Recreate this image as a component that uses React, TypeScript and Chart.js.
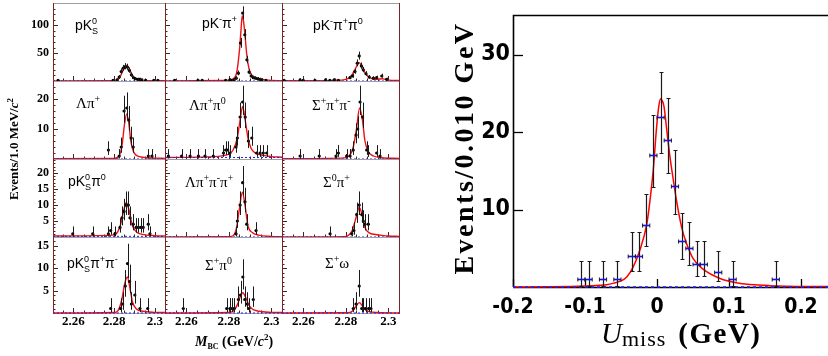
import React, { useEffect, useRef } from "react";
import { Chart, registerables } from "chart.js";

Chart.register(...registerables);

/* ================= DATA: left grid, M_BC (GeV/c^2) ================= */
const MBC_MIN = 2.25;
const MBC_MAX = 2.305;
const MBC_TICKS = [2.26, 2.28, 2.3];
const MBC_TICK_LABELS = ["2.26", "2.28", "2.3"];
const MBC_MINOR_STEP = 0.005;

const ROW_Y_MAX = [140, 26, 24.4, 16.9];
const ROW_Y_TICKS = [[50, 100], [10, 20], [5, 10, 15, 20], [5, 10, 15]];
const ROW_Y_TICK_LABELS = [["50", "100"], ["10", "20"], ["5", "10", "15", "20"], ["5", "10", "15"]];
const ROW_Y_MINOR = [10, 2, 1, 1];

type Pt = [number, number];

// row 1
const PK0S_PTS: Pt[] = [[2.2525, 1], [2.2795, 1], [2.2815, 2], [2.2825, 7], [2.2835, 17], [2.2845, 23], [2.2855, 26], [2.2865, 25], [2.2875, 19], [2.2885, 11], [2.2895, 6], [2.2905, 4], [2.2915, 3], [2.2925, 3], [2.2935, 2], [2.2955, 1], [2.2995, 1], [2.3015, 1]];
const PK0S_FIT: Pt[] = [[2.25, 0.2], [2.278, 0.4], [2.281, 1.5], [2.283, 8], [2.2845, 20], [2.2862, 28], [2.2877, 20], [2.289, 9], [2.2905, 4], [2.2925, 2], [2.295, 1.2], [2.3, 0.6], [2.305, 0.4]];

const PKPI_PTS: Pt[] = [[2.2545, 1], [2.2655, 1], [2.2675, 1], [2.2785, 1], [2.2805, 2], [2.2815, 1], [2.2825, 2], [2.2835, 5], [2.2845, 14], [2.2855, 68], [2.2865, 122], [2.2875, 83], [2.2885, 38], [2.2895, 16], [2.2905, 9], [2.2915, 6], [2.2925, 5], [2.2935, 4], [2.2945, 3], [2.2955, 2], [2.2975, 1]];
const PKPI_FIT: Pt[] = [[2.25, 0.3], [2.278, 0.8], [2.2815, 3], [2.2835, 12], [2.285, 55], [2.2857, 90], [2.2863, 117], [2.287, 105], [2.2877, 78], [2.2885, 45], [2.2895, 22], [2.2905, 12], [2.292, 7], [2.294, 4], [2.297, 2], [2.3, 1], [2.305, 0.5]];

const PKPIPI0_PTS: Pt[] = [[2.251, 1], [2.2585, 2], [2.26, 1], [2.2655, 1], [2.2705, 2], [2.2725, 1], [2.2745, 2], [2.2765, 1], [2.282, 6], [2.2832, 9], [2.2843, 17], [2.2854, 32], [2.2863, 45], [2.2873, 27], [2.2882, 20], [2.2895, 13], [2.291, 7], [2.293, 5], [2.2945, 6], [2.2969, 9], [2.2992, 3]];
const PKPIPI0_FIT: Pt[] = [[2.25, 0.5], [2.275, 1.2], [2.28, 3], [2.2825, 9], [2.2845, 22], [2.2862, 33], [2.2877, 26], [2.289, 15], [2.2905, 8], [2.2925, 4], [2.295, 3], [2.297, 4], [2.2985, 3], [2.3, 1.5], [2.305, 0.8]];

// row 2
const LPI_PTS: Pt[] = [[2.2772, 3], [2.2825, 1], [2.2835, 4], [2.2849, 16], [2.2862, 17], [2.2872, 13], [2.2884, 7], [2.2894, 4], [2.2968, 1], [2.2986, 1]];
const LPI_FIT: Pt[] = [[2.25, 0.1], [2.28, 0.2], [2.2825, 1], [2.284, 5], [2.285, 11], [2.2862, 15], [2.2872, 12], [2.2882, 6], [2.2895, 2.5], [2.291, 1.2], [2.294, 0.6], [2.3, 0.3], [2.305, 0.2]];

const LPIPI0_PTS: Pt[] = [[2.2516, 1], [2.2578, 1], [2.2618, 1], [2.2657, 1], [2.2688, 1], [2.2727, 1], [2.2775, 2], [2.2785, 3], [2.2795, 3], [2.2805, 2], [2.2834, 4], [2.284, 7], [2.2853, 14], [2.2865, 19], [2.2877, 14], [2.2892, 6], [2.2908, 7], [2.2931, 2], [2.2947, 2], [2.2962, 2], [2.2978, 2]];
const LPIPI0_FIT: Pt[] = [[2.25, 0.5], [2.27, 0.7], [2.278, 1.2], [2.282, 3], [2.284, 7], [2.2853, 13], [2.2865, 17.5], [2.2877, 13], [2.289, 7], [2.2905, 3.5], [2.2925, 2], [2.296, 1.2], [2.3, 0.8], [2.305, 0.6]];

const SPIPI_PTS: Pt[] = [[2.2585, 1], [2.2675, 1], [2.2754, 1], [2.2765, 2], [2.2804, 1], [2.282, 1], [2.2835, 3], [2.2848, 8], [2.2856, 10], [2.2867, 19], [2.2879, 14], [2.2898, 3], [2.2906, 2], [2.2945, 2], [2.2961, 1]];
const SPIPI_FIT: Pt[] = [[2.25, 0.1], [2.278, 0.3], [2.2815, 1], [2.2835, 4], [2.285, 10], [2.2865, 17], [2.2878, 13], [2.289, 6], [2.2905, 2.5], [2.293, 1], [2.297, 0.4], [2.305, 0.2]];

// row 3
const PK0SPI0_PTS: Pt[] = [[2.2597, 1], [2.2695, 1], [2.2772, 1], [2.2783, 2], [2.2804, 1], [2.2829, 3], [2.2839, 6], [2.2849, 8], [2.2858, 10], [2.287, 10], [2.2878, 6], [2.2894, 4], [2.2908, 3], [2.2919, 3], [2.2931, 3], [2.2943, 3], [2.2968, 4], [2.2976, 1]];
const PK0SPI0_FIT: Pt[] = [[2.25, 0.3], [2.278, 0.5], [2.281, 1], [2.283, 3.5], [2.2848, 8.5], [2.286, 10.8], [2.2873, 8.5], [2.289, 3.5], [2.291, 1.6], [2.294, 0.8], [2.3, 0.4], [2.305, 0.3]];

const LPIPIPI_PTS: Pt[] = [[2.2834, 1], [2.284, 5], [2.2853, 10], [2.2865, 17], [2.2876, 11], [2.2884, 4], [2.2928, 2]];
const LPIPIPI_FIT: Pt[] = [[2.25, 0], [2.28, 0.1], [2.282, 0.4], [2.2835, 2.5], [2.2848, 8], [2.2864, 14], [2.2876, 10], [2.289, 3.5], [2.291, 1.4], [2.294, 0.6], [2.3, 0.2], [2.305, 0.1]];

const S0PI_PTS: Pt[] = [[2.2726, 1], [2.2828, 1], [2.2838, 2], [2.2851, 7], [2.2863, 10], [2.2875, 7], [2.2882, 5], [2.289, 4], [2.2906, 4]];
const S0PI_FIT: Pt[] = [[2.25, 0], [2.279, 0.1], [2.281, 0.4], [2.283, 2], [2.285, 6.5], [2.2863, 9.3], [2.2878, 6.5], [2.289, 3], [2.291, 1.3], [2.294, 0.8], [2.297, 0.5], [2.3, 0.3], [2.305, 0.2]];

// row 4
const PK0SPIPI_PTS: Pt[] = [[2.2783, 1], [2.2832, 1], [2.2842, 2], [2.2855, 6], [2.2866, 11], [2.2876, 7], [2.2885, 2], [2.2902, 4], [2.2927, 1], [2.2965, 1]];
const PK0SPIPI_FIT: Pt[] = [[2.25, 0], [2.28, 0.1], [2.282, 0.6], [2.2838, 3], [2.2852, 6.5], [2.2865, 8], [2.2878, 5.5], [2.289, 2.5], [2.291, 0.9], [2.294, 0.4], [2.3, 0.15], [2.305, 0.1]];

const SPI0_PTS: Pt[] = [[2.2586, 1], [2.279, 1], [2.2805, 1], [2.2815, 1], [2.2825, 1], [2.2845, 3], [2.2855, 4], [2.2866, 8], [2.2875, 3], [2.2885, 2], [2.2895, 1], [2.2915, 3]];
const SPI0_FIT: Pt[] = [[2.25, 0], [2.28, 0.1], [2.282, 0.4], [2.284, 1.8], [2.2855, 3.8], [2.2866, 4.5], [2.288, 3.4], [2.2895, 1.7], [2.291, 0.9], [2.294, 0.4], [2.3, 0.15], [2.305, 0.1]];

const SOMEGA_PTS: Pt[] = [[2.2835, 1], [2.2848, 2], [2.2863, 6], [2.2875, 1], [2.2882, 1], [2.2893, 1], [2.2907, 1], [2.2918, 1]];
const SOMEGA_FIT: Pt[] = [[2.25, 0], [2.281, 0.05], [2.283, 0.4], [2.2848, 1.5], [2.2863, 2.3], [2.2878, 1.6], [2.2893, 0.7], [2.291, 0.3], [2.295, 0.1], [2.305, 0]];

/* ================= DATA: right plot, U_miss (GeV) ================= */
const UMISS_MIN = -0.2;
const UMISS_MAX = 0.2375;
const UMISS_Y_MAX = 35.1;
const UMISS_X = [-0.105, -0.095, -0.075, -0.055, -0.035, -0.025, -0.015, -0.005, 0.005, 0.015, 0.025, 0.035, 0.045, 0.055, 0.065, 0.085, 0.105, 0.165];
const UMISS_Y = [1, 1, 1, 1, 4, 4, 8, 17, 22, 19, 13, 6, 5, 3, 3, 2, 1, 1];
const UMISS_ERR_LO = [0.83, 0.83, 0.83, 0.83, 1.91, 1.91, 2.77, 4.08, 4.66, 4.32, 3.57, 2.38, 2.16, 1.63, 1.63, 1.29, 0.83, 0.83];
const UMISS_ERR_HI = [2.3, 2.3, 2.3, 2.3, 3.16, 3.16, 3.94, 5.2, 5.76, 5.43, 4.71, 3.58, 3.38, 2.92, 2.92, 2.64, 2.3, 2.3];
const UMISS_BIN_HALF = 0.005;
const UMISS_FIT_X = [-0.2, -0.15, -0.12, -0.1, -0.08, -0.07, -0.06, -0.051, -0.042, -0.033, -0.024, -0.014, -0.0097, -0.005, -0.0005, 0.0025, 0.005, 0.0075, 0.0097, 0.0135, 0.018, 0.0227, 0.027, 0.034, 0.041, 0.05, 0.064, 0.0875, 0.11, 0.157, 0.2375];
const UMISS_FIT_Y = [0.0, 0.02, 0.06, 0.12, 0.22, 0.3, 0.5, 0.75, 1.3, 2.6, 4.7, 8.2, 11.2, 15.3, 20.7, 23.3, 24.3, 24.0, 23.3, 20.3, 16.8, 13.8, 11.2, 7.8, 5.6, 3.7, 2.3, 1.1, 0.55, 0.17, 0.05];
const UMISS_X_TICKS = [-0.2, -0.1, 0, 0.1, 0.2];
const UMISS_X_TICK_LABELS = ["-0.2", "-0.1", "0", "0.1", "0.2"];
const UMISS_Y_TICKS = [10, 20, 30];
const UMISS_Y_TICK_LABELS = ["10", "20", "30"];

/* ================= STYLE / LAYOUT ================= */
const SANS = '"Liberation Sans", Arial, sans-serif';
const SERIF = '"Liberation Serif", "Times New Roman", serif';
const NARROW = '"Liberation Sans Narrow", "DejaVu Sans Condensed", "Liberation Sans", sans-serif';
const RED = "#ee1111";
const BLUE = "#2222ee";

const COL_X = [53, 165, 282, 399];
const ROW_Y = [3, 81, 159, 237, 313];

type Part = { t: string; f: string; dy?: number; dx?: number; stack?: boolean; ls?: number };

const sB = (t: string): Part => ({ t, f: `14px ${SANS}` });
const sSup = (t: string): Part => ({ t, f: `9px ${SANS}`, dy: -6 });
const sSub = (t: string): Part => ({ t, f: `9px ${SANS}`, dy: 4, stack: true });
const rB = (t: string): Part => ({ t, f: `15px ${SERIF}` });
const rSup = (t: string): Part => ({ t, f: `10px ${SERIF}`, dy: -6 });

function drawRich(ctx: CanvasRenderingContext2D, x: number, y: number, parts: Part[], align: "left" | "center" = "left") {
  const items: { p: Part; start: number }[] = [];
  let cursor = 0;
  let prevStart = 0;
  for (const p of parts) {
    ctx.font = p.f;
    (ctx as any).letterSpacing = `${p.ls || 0}px`;
    const w = ctx.measureText(p.t).width;
    const start = p.stack ? prevStart : cursor + (p.dx || 0);
    items.push({ p, start });
    const end = start + w;
    cursor = p.stack ? Math.max(cursor, end) : end;
    if (!p.stack) prevStart = start;
  }
  const ox = align === "center" ? x - cursor / 2 : x;
  ctx.textAlign = "left";
  ctx.textBaseline = "alphabetic";
  for (const { p, start } of items) {
    ctx.font = p.f;
    (ctx as any).letterSpacing = `${p.ls || 0}px`;
    ctx.fillText(p.t, ox + start, y + (p.dy || 0));
  }
  (ctx as any).letterSpacing = "0px";
}

interface PanelSpec {
  row: number;
  col: number;
  pts: Pt[];
  fit: Pt[];
  bkg: number;
  label: Part[];
  lx: number;
  ly: number;
}

const PANELS: PanelSpec[] = [
  { row: 0, col: 0, pts: PK0S_PTS, fit: PK0S_FIT, bkg: 0, label: [sB("pK"), sSup("0"), sSub("S")], lx: 22, ly: 27 },
  { row: 0, col: 1, pts: PKPI_PTS, fit: PKPI_FIT, bkg: 0, label: [sB("pK"), sSup("-"), sB("π"), sSup("+")], lx: 37, ly: 25 },
  { row: 0, col: 2, pts: PKPIPI0_PTS, fit: PKPIPI0_FIT, bkg: 0, label: [sB("pK"), sSup("-"), sB("π"), sSup("+"), sB("π"), sSup("0")], lx: 31, ly: 27 },
  { row: 1, col: 0, pts: LPI_PTS, fit: LPI_FIT, bkg: 0, label: [rB("Λπ"), rSup("+")], lx: 23, ly: 27 },
  { row: 1, col: 1, pts: LPIPI0_PTS, fit: LPIPI0_FIT, bkg: 0.5, label: [rB("Λπ"), rSup("+"), rB("π"), rSup("0")], lx: 24, ly: 29 },
  { row: 1, col: 2, pts: SPIPI_PTS, fit: SPIPI_FIT, bkg: 0, label: [rB("Σ"), rSup("+"), rB("π"), rSup("+"), rB("π"), rSup("-")], lx: 30, ly: 29 },
  { row: 2, col: 0, pts: PK0SPI0_PTS, fit: PK0SPI0_FIT, bkg: 0.2, label: [sB("pK"), sSup("0"), sSub("S"), sB("π"), sSup("0")], lx: 15, ly: 27 },
  { row: 2, col: 1, pts: LPIPIPI_PTS, fit: LPIPIPI_FIT, bkg: 0, label: [rB("Λπ"), rSup("+"), rB("π"), rSup("-"), rB("π"), rSup("+")], lx: 20, ly: 28 },
  { row: 2, col: 2, pts: S0PI_PTS, fit: S0PI_FIT, bkg: 0, label: [rB("Σ"), rSup("0"), rB("π"), rSup("+")], lx: 41, ly: 28 },
  { row: 3, col: 0, pts: PK0SPIPI_PTS, fit: PK0SPIPI_FIT, bkg: 0, label: [sB("pK"), sSup("0"), sSub("S"), sB("π"), sSup("+"), sB("π"), sSup("-")], lx: 14, ly: 31 },
  { row: 3, col: 1, pts: SPI0_PTS, fit: SPI0_FIT, bkg: 0, label: [rB("Σ"), rSup("+"), rB("π"), rSup("0")], lx: 40, ly: 33 },
  { row: 3, col: 2, pts: SOMEGA_PTS, fit: SOMEGA_FIT, bkg: 0, label: [rB("Σ"), rSup("+"), rB("ω")], lx: 43, ly: 31 },
];

// Poisson (Garwood-like) error bar half-lengths for displayed counts
const errLo = (n: number) => (n <= 0 ? 0 : Math.sqrt(n) - 0.17 / Math.sqrt(n));
const errHi = (n: number) => (n <= 0 ? 1.84 : Math.sqrt(n) + 1 + 0.3 / Math.sqrt(n));

function near(a: number, list: number[]) {
  return list.some((v) => Math.abs(v - a) < 1e-9);
}

function panelGeom(p: PanelSpec) {
  const x0 = COL_X[p.col], x1 = COL_X[p.col + 1];
  const y0 = ROW_Y[p.row], y1 = ROW_Y[p.row + 1];
  const padL = p.col === 0 ? x0 : 2;
  const padB = p.row === 3 ? 26 : 2;
  return {
    left: x0 - padL,
    top: y0 - 2,
    width: padL + (x1 - x0) + 2,
    height: 2 + (y1 - y0) + padB,
    padL,
    padB,
  };
}

function makePanelConfig(p: PanelSpec): any {
  const g = panelGeom(p);
  const yTicks = ROW_Y_TICKS[p.row];
  const yLabels = ROW_Y_TICK_LABELS[p.row];
  const yMinor = ROW_Y_MINOR[p.row];
  const lo = p.pts.map(([, y]) => errLo(y));
  const hi = p.pts.map(([, y]) => errHi(y));

  const decor = {
    id: "panelDecor",
    beforeDatasetsDraw(chart: any) {
      const { ctx, chartArea: a } = chart;
      const xs = chart.scales.x, ys = chart.scales.y;
      ctx.save();
      ctx.lineWidth = 1;
      ctx.strokeStyle = "#4a2222";
      for (let k = 1; k * yMinor < ys.max; k++) {
        const v = k * yMinor;
        const py = Math.round(ys.getPixelForValue(v)) + 0.5;
        const len = near(v, yTicks) ? 5 : 2.5;
        ctx.beginPath();
        ctx.moveTo(a.left, py);
        ctx.lineTo(a.left + len, py);
        ctx.stroke();
      }
      const n = Math.round((MBC_MAX - MBC_MIN) / MBC_MINOR_STEP);
      for (let k = 1; k <= n; k++) {
        const v = MBC_MIN + k * MBC_MINOR_STEP;
        const px = Math.round(xs.getPixelForValue(v)) + 0.5;
        const len = near(v, MBC_TICKS) ? 5 : 2.5;
        ctx.beginPath();
        ctx.moveTo(px, a.bottom);
        ctx.lineTo(px, a.bottom - len);
        ctx.stroke();
      }
      ctx.strokeStyle = "#a0a0a0";
      ctx.beginPath();
      ctx.moveTo(a.left, a.top + 0.5);
      ctx.lineTo(a.right + 1, a.top + 0.5);
      ctx.moveTo(a.left, a.bottom + 0.5);
      ctx.lineTo(a.right + 1, a.bottom + 0.5);
      ctx.stroke();
      ctx.strokeStyle = "#7a2424";
      ctx.beginPath();
      ctx.moveTo(a.left + 0.5, a.top);
      ctx.lineTo(a.left + 0.5, a.bottom + 1);
      ctx.moveTo(a.right + 0.5, a.top);
      ctx.lineTo(a.right + 0.5, a.bottom + 1);
      ctx.stroke();
      ctx.restore();
    },
    afterDatasetDraw(chart: any, args: any) {
      if (args.index !== 0) return;
      const { ctx } = chart;
      const ys = chart.scales.y;
      ctx.save();
      ctx.strokeStyle = "#1a1a1a";
      ctx.lineWidth = 1;
      args.meta.data.forEach((el: any, i: number) => {
        const v = p.pts[i][1];
        const px = Math.round(el.x) + 0.5;
        const t = ys.getPixelForValue(v + hi[i]);
        const b = ys.getPixelForValue(Math.max(0, v - lo[i]));
        ctx.beginPath();
        ctx.moveTo(px, t);
        ctx.lineTo(px, b);
        ctx.stroke();
      });
      ctx.restore();
    },
    afterDraw(chart: any) {
      const { ctx, chartArea: a } = chart;
      ctx.save();
      ctx.fillStyle = "#000";
      drawRich(ctx, a.left + p.lx, a.top + p.ly, p.label);
      ctx.restore();
    },
  };

  return {
    type: "scatter",
    data: {
      datasets: [
        {
          type: "scatter",
          data: p.pts.map(([x, y]) => ({ x, y })),
          pointRadius: 1.6,
          pointBackgroundColor: "#000",
          pointBorderWidth: 0,
          borderWidth: 0,
        },
        {
          type: "line",
          data: [{ x: MBC_MIN, y: p.bkg }, { x: MBC_MAX, y: p.bkg }],
          borderColor: BLUE,
          borderWidth: 1,
          borderDash: [2, 2],
          pointRadius: 0,
          fill: false,
          clip: false,
        },
        {
          type: "line",
          data: p.fit.map(([x, y]) => ({ x, y })),
          borderColor: RED,
          borderWidth: 1.4,
          pointRadius: 0,
          cubicInterpolationMode: "monotone",
          fill: false,
          clip: false,
        },
      ],
    },
    options: {
      animation: false,
      responsive: false,
      events: [],
      layout: { padding: { top: 2, right: 2, left: 0, bottom: 0 }, autoPadding: false },
      plugins: { legend: { display: false }, tooltip: { enabled: false } },
      scales: {
        x: {
          type: "linear",
          min: MBC_MIN,
          max: MBC_MAX,
          grid: { display: false, drawTicks: false },
          border: { display: false },
          ticks: {
            display: p.row === 3,
            autoSkip: false,
            maxRotation: 0,
            minRotation: 0,
            color: "#000",
            padding: 1,
            font: { family: SERIF, size: 13, weight: "bold" },
            callback: (_v: any, i: number) => MBC_TICK_LABELS[i],
          },
          afterBuildTicks: (s: any) => {
            s.ticks = MBC_TICKS.map((value) => ({ value }));
          },
          afterFit: (s: any) => {
            s.height = g.padB;
            s.paddingLeft = 0;
            s.paddingRight = 0;
          },
        },
        y: {
          type: "linear",
          min: 0,
          max: ROW_Y_MAX[p.row],
          grid: { display: false, drawTicks: false },
          border: { display: false },
          ticks: {
            display: p.col === 0,
            autoSkip: false,
            color: "#000",
            padding: 4,
            font: { family: SERIF, size: 12, weight: "bold" },
            callback: (_v: any, i: number) => yLabels[i],
          },
          afterBuildTicks: (s: any) => {
            s.ticks = yTicks.map((value) => ({ value }));
          },
          afterFit: (s: any) => {
            s.width = g.padL;
            s.paddingTop = 0;
            s.paddingBottom = 0;
          },
        },
      },
    },
    plugins: [decor],
  };
}

/* ================= right chart ================= */
const R_LEFT = 420;
const R_W = 408;
const R_H = 356;
const R_AXIS_W = 93;
const R_AXIS_H = 69;
const R_PAD_TOP = 15;

function makeUmissConfig(): any {
  const decor = {
    id: "umissDecor",
    beforeDatasetsDraw(chart: any) {
      const { ctx, chartArea: a } = chart;
      const xs = chart.scales.x, ys = chart.scales.y;
      ctx.save();
      ctx.strokeStyle = "#000";
      ctx.lineWidth = 1.3;
      UMISS_Y_TICKS.forEach((v) => {
        const py = Math.round(ys.getPixelForValue(v)) + 0.5;
        ctx.beginPath();
        ctx.moveTo(a.left, py);
        ctx.lineTo(a.left + 10, py);
        ctx.stroke();
      });
      UMISS_X_TICKS.forEach((v) => {
        const px = Math.round(xs.getPixelForValue(v)) + 0.5;
        ctx.beginPath();
        ctx.moveTo(px, a.bottom);
        ctx.lineTo(px, a.bottom - 8);
        ctx.stroke();
      });
      ctx.lineWidth = 1.6;
      ctx.beginPath();
      ctx.moveTo(a.left + 0.5, a.bottom);
      ctx.lineTo(a.left + 0.5, a.top + 0.5);
      ctx.lineTo(a.right, a.top + 0.5);
      ctx.moveTo(a.left, a.bottom + 0.5);
      ctx.lineTo(a.right, a.bottom + 0.5);
      ctx.stroke();
      ctx.restore();
    },
    afterDatasetDraw(chart: any, args: any) {
      if (args.index !== 0) return;
      const { ctx } = chart;
      const xs = chart.scales.x, ys = chart.scales.y;
      ctx.save();
      args.meta.data.forEach((el: any, i: number) => {
        const v = UMISS_Y[i];
        const xv = UMISS_X[i];
        const px = Math.round(el.x) + 0.5;
        const py = Math.round(el.y) + 0.5;
        const t = Math.round(ys.getPixelForValue(v + UMISS_ERR_HI[i])) + 0.5;
        const b = Math.round(ys.getPixelForValue(Math.max(0, v - UMISS_ERR_LO[i]))) + 0.5;
        ctx.strokeStyle = "#1a1a1a";
        ctx.lineWidth = 1.2;
        ctx.beginPath();
        ctx.moveTo(px, t);
        ctx.lineTo(px, b);
        ctx.moveTo(px - 2, t);
        ctx.lineTo(px + 2, t);
        ctx.moveTo(px - 2, b);
        ctx.lineTo(px + 2, b);
        ctx.stroke();
        const xl = xs.getPixelForValue(xv - UMISS_BIN_HALF);
        const xr = xs.getPixelForValue(xv + UMISS_BIN_HALF);
        ctx.strokeStyle = "#1010ff";
        ctx.lineWidth = 1.6;
        ctx.beginPath();
        ctx.moveTo(xl, py);
        ctx.lineTo(xr, py);
        ctx.stroke();
        ctx.strokeStyle = "#1a1a1a";
        ctx.lineWidth = 1;
        ctx.beginPath();
        ctx.moveTo(xl, py - 2);
        ctx.lineTo(xl, py + 2);
        ctx.moveTo(xr, py - 2);
        ctx.lineTo(xr, py + 2);
        ctx.stroke();
      });
      ctx.restore();
    },
    afterDraw(chart: any) {
      const { ctx } = chart;
      ctx.save();
      ctx.fillStyle = "#000";
      ctx.translate(53, 148);
      ctx.rotate(-Math.PI / 2);
      drawRich(ctx, 0, 0, [{ t: "Events/0.010 GeV", f: `bold 28px ${SERIF}`, ls: 2.5 }], "center");
      ctx.restore();
      ctx.save();
      ctx.fillStyle = "#000";
      drawRich(ctx, 181, 343, [
        { t: "U", f: `italic 29px ${SERIF}` },
        { t: "miss", f: `22px ${SERIF}`, dy: 3, ls: 1 },
        { t: "(GeV)", f: `bold 29px ${SERIF}`, dx: 12, ls: 1.5 },
      ]);
      ctx.restore();
    },
  };

  return {
    type: "scatter",
    data: {
      datasets: [
        {
          type: "scatter",
          data: UMISS_X.map((x, i) => ({ x, y: UMISS_Y[i] })),
          pointRadius: 0,
          borderWidth: 0,
        },
        {
          type: "line",
          data: [{ x: UMISS_MIN, y: 0 }, { x: UMISS_MAX, y: 0 }],
          borderColor: BLUE,
          borderWidth: 1.6,
          borderDash: [3, 3],
          pointRadius: 0,
          fill: false,
          clip: false,
        },
        {
          type: "line",
          data: UMISS_FIT_X.map((x, i) => ({ x, y: UMISS_FIT_Y[i] })),
          borderColor: "#ff0000",
          borderWidth: 1.5,
          pointRadius: 0,
          cubicInterpolationMode: "monotone",
          fill: false,
          clip: false,
        },
      ],
    },
    options: {
      animation: false,
      responsive: false,
      events: [],
      layout: { padding: { top: R_PAD_TOP, right: 0, left: 0, bottom: 0 }, autoPadding: false },
      plugins: { legend: { display: false }, tooltip: { enabled: false } },
      scales: {
        x: {
          type: "linear",
          min: UMISS_MIN,
          max: UMISS_MAX,
          grid: { display: false, drawTicks: false },
          border: { display: false },
          ticks: {
            autoSkip: false,
            maxRotation: 0,
            minRotation: 0,
            color: "#000",
            padding: 8,
            font: { family: NARROW, size: 21, weight: "bold" },
            callback: (_v: any, i: number) => UMISS_X_TICK_LABELS[i],
          },
          afterBuildTicks: (s: any) => {
            s.ticks = UMISS_X_TICKS.map((value) => ({ value }));
          },
          afterFit: (s: any) => {
            s.height = R_AXIS_H;
            s.paddingLeft = 0;
            s.paddingRight = 0;
          },
        },
        y: {
          type: "linear",
          min: 0,
          max: UMISS_Y_MAX,
          grid: { display: false, drawTicks: false },
          border: { display: false },
          ticks: {
            autoSkip: false,
            color: "#000",
            padding: 3,
            font: { family: NARROW, size: 23, weight: "bold" },
            callback: (_v: any, i: number) => UMISS_Y_TICK_LABELS[i],
          },
          afterBuildTicks: (s: any) => {
            s.ticks = UMISS_Y_TICKS.map((value) => ({ value }));
          },
          afterFit: (s: any) => {
            s.width = R_AXIS_W;
            s.paddingTop = 0;
            s.paddingBottom = 0;
          },
        },
      },
    },
    plugins: [decor],
  };
}

/* ================= components ================= */
function ChartCanvas(props: { left: number; top: number; width: number; height: number; make: () => any }) {
  const ref = useRef<HTMLCanvasElement>(null);
  useEffect(() => {
    const chart = new Chart(ref.current as HTMLCanvasElement, props.make());
    return () => chart.destroy();
  }, []);
  return (
    <canvas
      ref={ref}
      width={props.width}
      height={props.height}
      style={{ position: "absolute", left: props.left, top: props.top, width: props.width, height: props.height }}
    />
  );
}

function TitlesOverlay() {
  const ref = useRef<HTMLCanvasElement>(null);
  useEffect(() => {
    const ctx = (ref.current as HTMLCanvasElement).getContext("2d") as CanvasRenderingContext2D;
    ctx.clearRect(0, 0, 828, 356);
    ctx.fillStyle = "#000";
    ctx.save();
    ctx.translate(18, 149);
    ctx.rotate(-Math.PI / 2);
    drawRich(
      ctx,
      0,
      0,
      [
        { t: "Events/1.0 MeV/", f: `bold 13px ${SERIF}` },
        { t: "c", f: `italic bold 13px ${SERIF}` },
        { t: "2", f: `bold 9px ${SERIF}`, dy: -5 },
      ],
      "center"
    );
    ctx.restore();
    drawRich(ctx, 195, 346, [
      { t: "M", f: `italic bold 14px ${SERIF}` },
      { t: "BC", f: `bold 8px ${SERIF}`, dy: 3 },
      { t: " (GeV/", f: `bold 14px ${SERIF}` },
      { t: "c", f: `italic bold 14px ${SERIF}` },
      { t: "2", f: `bold 9px ${SERIF}`, dy: -6 },
      { t: ")", f: `bold 14px ${SERIF}` },
    ]);
  }, []);
  return (
    <canvas
      ref={ref}
      width={828}
      height={356}
      style={{ position: "absolute", left: 0, top: 0, width: 828, height: 356, pointerEvents: "none" }}
    />
  );
}

export default function App() {
  return (
    <div style={{ position: "fixed", left: 0, top: 0, width: 828, height: 356, background: "#fff", overflow: "hidden" }}>
      {PANELS.map((p, i) => {
        const g = panelGeom(p);
        return <ChartCanvas key={i} left={g.left} top={g.top} width={g.width} height={g.height} make={() => makePanelConfig(p)} />;
      })}
      <ChartCanvas left={R_LEFT} top={0} width={R_W} height={R_H} make={makeUmissConfig} />
      <TitlesOverlay />
    </div>
  );
}
